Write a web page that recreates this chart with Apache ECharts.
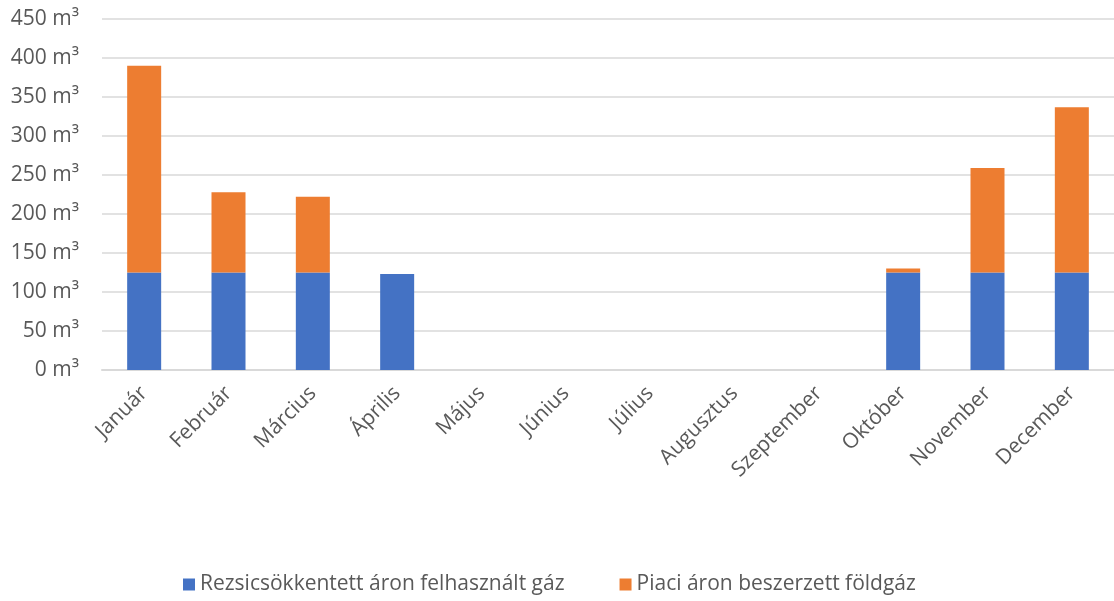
<!DOCTYPE html>
<html>
<head>
<meta charset="utf-8">
<script src="https://cdn.jsdelivr.net/npm/echarts@6/dist/echarts.min.js"></script>
<style>
  html, body { margin: 0; padding: 0; background: #fff; }
  #chart { width: 1114px; height: 601px; }
</style>
</head>
<body>
<div id="chart"></div>
<script>
// Havi gázfogyasztás (m³)
const months = ['Január', 'Február', 'Március', 'Április', 'Május', 'Június',
  'Július', 'Augusztus', 'Szeptember', 'Október', 'November', 'December'];
const reducedPriceGas = [125, 125, 125, 123, 0, 0, 0, 0, 0, 125, 125, 125];
const marketPriceGas = [265, 103, 97, 0, 0, 0, 0, 0, 0, 5, 134, 212];
const seriesNames = ['Rezsicsökkentett áron felhasznált gáz', 'Piaci áron beszerzett földgáz'];
const yMin = 0, yMax = 450, yStep = 50;

const textColor = '#595959';
const fontFamily = '"Open Sans", "Noto Sans", sans-serif';

const chart = echarts.init(document.getElementById('chart'));
chart.setOption({
  animation: false,
  textStyle: { fontFamily: fontFamily },
  grid: { left: 102, top: 19, width: 1015, height: 351, containLabel: false },
  legend: {
    data: seriesNames,
    left: 178,
    top: 569,
    itemWidth: 12,
    itemHeight: 12,
    itemGap: 55,
    icon: 'rect',
    textStyle: { fontSize: 21, color: textColor, fontFamily: fontFamily }
  },
  xAxis: {
    type: 'category',
    data: months,
    axisLine: { lineStyle: { color: '#d9d9d9', width: 2 } },
    axisTick: { show: false },
    axisLabel: {
      rotate: 45,
      interval: 0,
      margin: 20,
      fontSize: 21,
      color: textColor,
      fontFamily: fontFamily
    }
  },
  yAxis: {
    type: 'value',
    min: yMin,
    max: yMax,
    interval: yStep,
    axisLine: { show: false },
    axisTick: { show: false },
    splitLine: { lineStyle: { color: '#d9d9d9', width: 1.5 } },
    axisLabel: {
      formatter: '{value} m³',
      margin: 23,
      fontSize: 21,
      color: textColor,
      fontFamily: fontFamily
    }
  },
  series: [
    {
      name: seriesNames[0],
      type: 'bar',
      stack: 'gas',
      barWidth: 34,
      itemStyle: { color: '#4472C4' },
      data: reducedPriceGas
    },
    {
      name: seriesNames[1],
      type: 'bar',
      stack: 'gas',
      barWidth: 34,
      itemStyle: { color: '#ED7D31' },
      data: marketPriceGas
    }
  ]
});
</script>
</body>
</html>
